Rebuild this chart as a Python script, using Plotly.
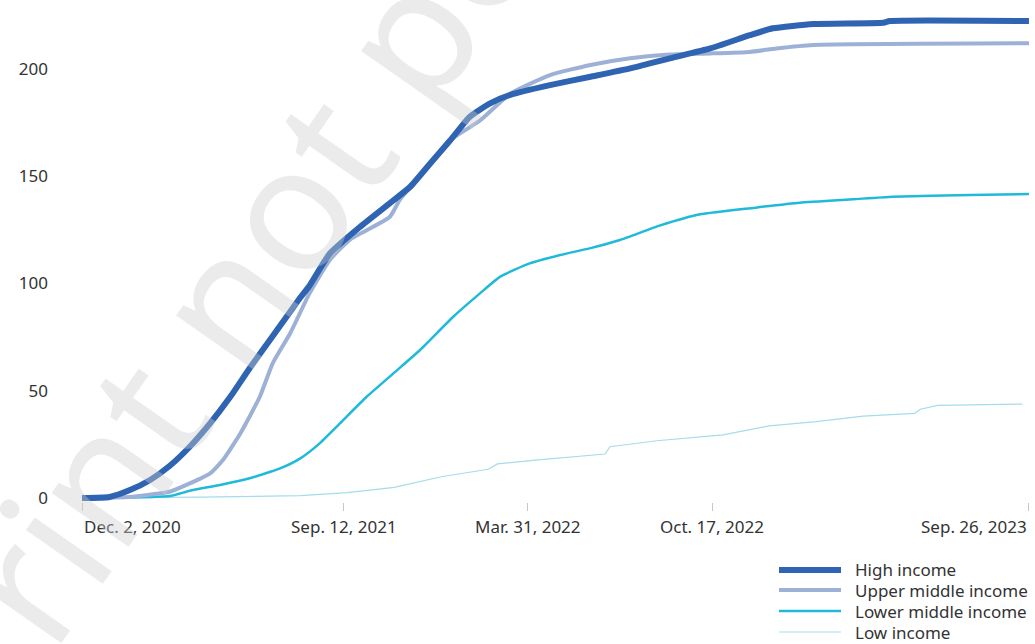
import plotly.graph_objects as go

# ---------------- data ----------------
high_dates = ["2020-12-02", "2021-01-01", "2021-01-23", "2021-02-14", "2021-03-07", "2021-03-29",
              "2021-04-20", "2021-05-12", "2021-06-02", "2021-06-24", "2021-07-16", "2021-07-27",
              "2021-08-06", "2021-08-28", "2021-09-30", "2021-11-01", "2021-11-23", "2021-12-15",
              "2022-01-06", "2022-01-27", "2022-02-18", "2022-03-12", "2022-04-24", "2022-06-07",
              "2022-07-20", "2022-09-01", "2022-10-15", "2022-11-27", "2022-12-22", "2023-02-04",
              "2023-04-21", "2023-04-28", "2023-09-26"]
high_vals = [0, 0.5, 3.7, 8.4, 14.9, 23.9,
             34.8, 47.2, 60.5, 73.7, 86.9, 93.5,
             99, 114, 126.5, 137.4, 145, 156,
             166.9, 177.8, 184, 188, 192.5, 196.4,
             200.3, 205, 209.6, 215.8, 219, 221,
             221.6, 222.4, 222.4]

upper_dates = ["2020-12-02", "2021-01-23", "2021-02-11", "2021-03-07", "2021-03-29", "2021-04-20",
               "2021-05-04", "2021-05-23", "2021-06-13", "2021-06-27", "2021-07-16", "2021-08-06",
               "2021-08-28", "2021-09-19", "2021-11-01", "2021-11-12", "2021-12-15", "2022-01-06",
               "2022-02-07", "2022-03-12", "2022-04-24", "2022-06-07", "2022-07-20", "2022-09-01",
               "2022-10-15", "2022-11-27", "2022-12-26", "2023-02-04", "2023-09-26"]
upper_vals = [0, 0.5, 1.4, 2.9, 6.8, 11.5,
              17.7, 30.2, 47.2, 62.8, 76.8, 95.4,
              111, 120.5, 131, 139, 156, 166.9,
              176, 188.5, 197.2, 201.9, 205, 206.8,
              207.3, 208, 209.6, 211.2, 212]

lower_dates = ["2020-12-02", "2021-03-07", "2021-03-29", "2021-05-01", "2021-06-02", "2021-07-05",
               "2021-07-27", "2021-08-17", "2021-09-08", "2021-10-07", "2021-11-05", "2021-12-04",
               "2022-01-09", "2022-02-07", "2022-03-01", "2022-04-02", "2022-05-05", "2022-06-06",
               "2022-07-09", "2022-08-21", "2022-10-04", "2022-12-05", "2023-01-20", "2023-03-19",
               "2023-05-01", "2023-07-24", "2023-09-26"]
lower_vals = [0, 0.9, 3.4, 6.1, 9.2, 13.8,
              18.5, 25.5, 34.8, 47.2, 58.1, 69,
              84.5, 95.4, 103.2, 109.4, 113.3, 116.4,
              120.3, 127, 132.3, 135.5, 137.7, 139.3,
              140.5, 141.3, 141.7]

low_dates = ["2020-12-02", "2021-04-09", "2021-07-27", "2021-09-16", "2021-11-06", "2021-12-27",
             "2022-02-16", "2022-02-26", "2022-04-08", "2022-06-23", "2022-06-28", "2022-08-18",
             "2022-10-29", "2022-12-18", "2023-02-07", "2023-03-30", "2023-05-25", "2023-05-31",
             "2023-06-19", "2023-09-19"]
low_vals = [0, 0.4, 1.1, 2.5, 5.0, 9.9,
            13.4, 15.9, 17.7, 20.5, 23.9, 26.7,
            29.4, 33.6, 35.6, 38.2, 39.5, 41.4,
            43.2, 43.8]

series_names = ["High income", "Upper middle income", "Lower middle income", "Low income"]

x_tick_dates = ["2020-12-02", "2021-09-12", "2022-03-31", "2022-10-17", "2023-09-26"]
x_tick_labels = ["Dec. 2, 2020", "Sep. 12, 2021", "Mar. 31, 2022", "Oct. 17, 2022", "Sep. 26, 2023"]
y_tick_vals = [0, 50, 100, 150, 200]

watermark_text = "Print not permitted"

# ---------------- styles ----------------
FONT = "Noto Sans"
colors = {"High income": "#2E64B1", "Upper middle income": "#9DB1D6",
          "Lower middle income": "#1FBAD9", "Low income": "#A5DCEA"}
widths = {"High income": 6, "Upper middle income": 4,
          "Lower middle income": 2.5, "Low income": 1.2}
shapes_line = {"High income": "spline", "Upper middle income": "spline",
               "Lower middle income": "spline", "Low income": "linear"}
data = {"High income": (high_dates, high_vals),
        "Upper middle income": (upper_dates, upper_vals),
        "Lower middle income": (lower_dates, lower_vals),
        "Low income": (low_dates, low_vals)}

fig = go.Figure()
for name in reversed(series_names):
    d, v = data[name]
    fig.add_trace(go.Scatter(x=d, y=v, mode="lines", name=name, showlegend=False,
                             line=dict(color=colors[name], width=widths[name],
                                       shape=shapes_line[name], smoothing=0.5),
                             hoverinfo="skip"))

W, H = 1035, 644
ML, MR, MT, MB = 77, 3, 0, 142
PW, PH = W - ML - MR, H - MT - MB


def px_x(px):
    return (px - ML) / PW


def px_y(py):
    return (H - MB - py) / PH


annotations = []
# x tick labels
anchors = ["left", "center", "center", "center", "right"]
for d, t, a in zip(x_tick_dates, x_tick_labels, anchors):
    annotations.append(dict(x=d, xref="x", y=px_y(526), yref="paper", text=t,
                            showarrow=False, xanchor=a, yanchor="middle",
                            font=dict(family=FONT, size=17, color="#333333")))

# custom legend
shapes = []
rows = [570, 590, 611, 632]
for name, ry in zip(series_names, rows):
    shapes.append(dict(type="line", xref="paper", yref="paper",
                       x0=px_x(779), x1=px_x(841), y0=px_y(ry), y1=px_y(ry),
                       line=dict(color=colors[name], width=widths[name])))
    annotations.append(dict(x=px_x(853), xref="paper", y=px_y(ry), yref="paper",
                            text=name, showarrow=False, xanchor="left", yanchor="middle",
                            font=dict(family=FONT, size=17, color="#333333")))

# watermark
annotations.append(dict(x=px_x(390), y=px_y(55), xref="paper", yref="paper",
                        text=watermark_text, showarrow=False, textangle=-55,
                        xanchor="center", yanchor="middle",
                        font=dict(family=FONT, size=175, color="rgba(205,205,205,0.4)")))

fig.update_layout(
    width=W, height=H,
    margin=dict(l=ML, r=MR, t=MT, b=MB),
    paper_bgcolor="white", plot_bgcolor="white",
    xaxis=dict(type="date", range=["2020-11-26 13:40", "2023-09-29 07:00"],
               tickvals=x_tick_dates, ticktext=[""] * len(x_tick_dates),
               ticks="outside", ticklen=8, tickcolor="#c8c8c8", tickwidth=1,
               showgrid=False, zeroline=False, showline=False),
    yaxis=dict(range=[-1.86, 232.2], tickvals=y_tick_vals, ticks="",
               showgrid=False, zeroline=False, showline=False,
               ticklabelstandoff=28,
               tickfont=dict(family=FONT, size=17, color="#333333")),
    annotations=annotations,
    shapes=shapes,
)

fig.write_html("out.html", config={"displayModeBar": False},
               post_script="document.body.style.margin='0';document.body.style.padding='0';")
